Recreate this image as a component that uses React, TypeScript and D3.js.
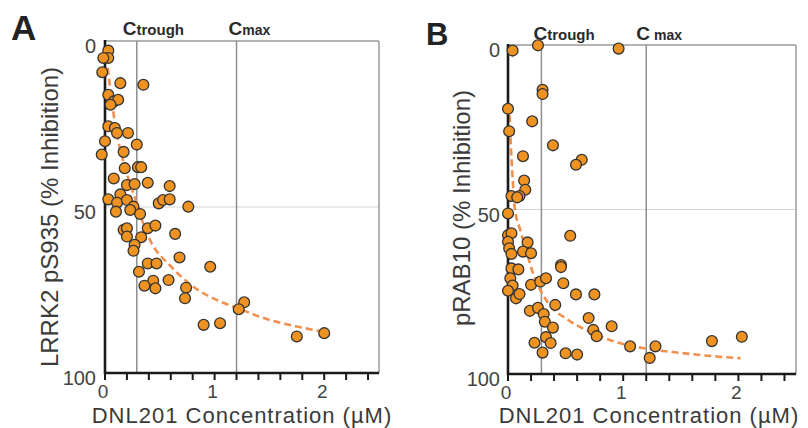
import * as d3 from 'd3';

// Panel A: LRRK2 pS935
const aConc = [0.03, 0.03, -0.015, -0.025, 0.14, 0.35, 0.03, 0.08, 0.12, 0.05, 0.03, 0.09, 0.11, 0.21, 0.0, 0.29,
  -0.03, 0.17, 0.18, 0.30, 0.33, 0.08, 0.20, 0.27, 0.39, 0.59, 0.14, 0.03, 0.11, 0.20, 0.26, 0.23, 0.10, 0.32,
  0.49, 0.53, 0.59, 0.76, 0.17, 0.20, 0.20, 0.39, 0.46, 0.33, 0.64, 0.27, 0.26, 0.68, 0.96, 0.39, 0.47, 0.31,
  0.44, 0.36, 0.46, 0.58, 0.74, 0.73, 1.27, 1.22, 0.90, 1.05, 1.75, 2.0];
const aInhib = [2.9, 5.1, 5.1, 9.4, 12.7, 13.2, 16.2, 18.2, 17.7, 19.2, 25.7, 26.2, 27.7, 27.7, 30.2, 31.2,
  34.2, 33.4, 38.3, 38.0, 38.0, 41.4, 43.4, 43.1, 42.7, 43.7, 46.2, 47.7, 48.7, 47.9, 49.9, 50.9, 51.4, 52.1,
  48.9, 47.9, 47.7, 49.9, 56.9, 56.4, 58.9, 56.4, 55.6, 59.1, 58.1, 61.4, 63.2, 65.2, 68.0, 67.0, 67.0, 69.5,
  72.2, 73.7, 74.5, 72.0, 74.3, 77.5, 78.7, 80.8, 85.5, 85.0, 89.0, 88.0];
const aFitConc = [0.025, 0.05, 0.1, 0.167, 0.26, 0.39, 0.61, 0.79, 1.09, 1.21, 1.5, 1.75, 2.0];
const aFitInhib = [8, 15, 26.5, 36.3, 46, 58.5, 68.2, 73.6, 79, 80.5, 84, 86, 87.6];

// Panel B: pRAB10
const bConc = [0.04, 0.26, 0.96, 0.30, 0.30, 0.0, 0.21, 0.01, 0.39, 0.13, 0.64, 0.59, 0.14, 0.15, 0.03, 0.10,
  0.08, 0.0, 0.54, 0.0, 0.03, 0.0, 0.17, 0.13, 0.20, 0.01, 0.03, 0.46, 0.46, 0.03, 0.09, 0.02, 0.20, 0.28, 0.33,
  0.48, 0.04, 0.0, 0.07, 0.10, 0.59, 0.75, 0.41, 0.19, 0.26, 0.31, 0.32, 0.39, 0.70, 0.90, 0.74, 0.77, 0.23,
  0.33, 0.37, 0.30, 0.50, 0.60, 1.06, 1.28, 1.23, 1.77, 2.03];
const bInhib = [1.7, 0.1, 1.1, 13.6, 14.9, 19.4, 23.2, 26.2, 30.5, 33.8, 34.9, 36.4, 41.2, 44.0, 45.9, 45.9,
  46.3, 51.2, 58.0, 57.8, 57.2, 59.8, 60.0, 62.8, 63.3, 61.8, 63.5, 66.9, 67.5, 67.9, 68.2, 70.9, 72.9, 71.9, 70.9,
  72.4, 73.1, 74.7, 77.0, 75.7, 75.8, 75.8, 79.0, 80.8, 79.9, 81.8, 84.1, 85.9, 83.0, 85.5, 86.6, 88.5, 90.5,
  88.8, 90.6, 93.5, 93.7, 94.1, 91.6, 91.6, 95.1, 90.0, 88.7];
const bFitConc = [0.01, 0.02, 0.043, 0.06, 0.1, 0.16, 0.2, 0.26, 0.35, 0.52, 0.7, 0.96, 1.2, 1.5, 1.75, 2.02];
const bFitInhib = [18, 27, 42, 50, 55.5, 62.5, 67.5, 73, 78.5, 83.5, 87, 90.5, 92.3, 93.6, 94.5, 95.2];

const xTicks = [0, 0.2, 0.4, 0.6, 0.8, 1, 1.2, 1.4, 1.6, 1.8, 2, 2.2, 2.4];
const xTickLabels = [0, 1, 2];
const yTickLabels = [0, 50, 100];
const cTrough = 0.29;
const cMax = 1.2;

const FONT = '"Liberation Sans", Arial, Helvetica, sans-serif';
const DOT = '#EE9322';
const FIT = '#F0904F';

function Panel({ letter, conc, inhib, fitConc, fitInhib, yTitle, box }) {
  const x = d3.scaleLinear().domain([0, 2.5]).range([box.left, box.right]);
  const y = d3.scaleLinear().domain([0, 100]).range([box.top, box.bottom]);
  const fit = d3.line().x(d => x(d[0])).y(d => y(d[1])).curve(d3.curveMonotoneX);
  const fitData = fitConc.map((c, i) => [c, fitInhib[i]]);

  return (
    <g fontFamily={FONT}>
      <text x={box.letterX} y={box.letterY} fontSize={box.letterSize} fontWeight="bold" fill="#222">{letter}</text>

      {/* frame + grid */}
      <line x1={x(0)} x2={box.right} y1={y(50)} y2={y(50)} stroke="#d4d4d4" strokeWidth={1.2} />
      <line x1={x(0)} x2={box.right} y1={box.top} y2={box.top} stroke="#9a9a9a" strokeWidth={1.5} />
      <line x1={box.right} x2={box.right} y1={box.top} y2={box.bottom} stroke="#9a9a9a" strokeWidth={1.5} />
      {[cTrough, cMax].map(v => (
        <line key={v} x1={x(v)} x2={x(v)} y1={box.top} y2={box.bottom} stroke="#8e8e8e" strokeWidth={1.5} />
      ))}

      {/* C labels */}
      <text x={x(cTrough) + box.troughDx} y={box.refY} fontWeight="bold" fill="#2a2a2a">
        <tspan fontSize={19}>C</tspan><tspan fontSize={15}>trough</tspan>
      </text>
      <text x={x(cMax) + box.maxDx} y={box.refY} fontWeight="bold" fill="#2a2a2a">
        <tspan fontSize={19}>C</tspan><tspan fontSize={14} dx={box.maxGap}>max</tspan>
      </text>

      {/* fit */}
      <path d={fit(fitData)} fill="none" stroke={FIT} strokeWidth={2.6} strokeDasharray="7,4" />

      {/* axes */}
      <line x1={x(0)} x2={x(0)} y1={box.top - 1} y2={box.bottom + 1} stroke="#1a1a1a" strokeWidth={2.6} />
      <line x1={x(0) - 1} x2={box.right} y1={box.bottom} y2={box.bottom} stroke="#1a1a1a" strokeWidth={2.6} />
      {xTicks.map(t => (
        <line key={t} x1={x(t)} x2={x(t)} y1={box.bottom} y2={box.bottom + 7} stroke="#1a1a1a" strokeWidth={2} />
      ))}
      {xTickLabels.map(t => (
        <text key={t} x={x(t) - 2} y={box.bottom + 25} textAnchor="middle" fontSize={19} fill="#444">{t}</text>
      ))}
      {yTickLabels.map(t => (
        <text key={t} x={x(0) - box.yLabGap} y={y(t) + 12} textAnchor="end" fontSize={20} fill="#444">{t}</text>
      ))}

      {/* points */}
      {conc.map((c, i) => (
        <circle key={i} cx={x(c)} cy={y(inhib[i])} r={5.4} fill={DOT} stroke="#333" strokeWidth={1.3} />
      ))}

      {/* titles */}
      <text x={box.xTitleX} y={423} textAnchor="middle" fontSize={22} letterSpacing={1} fill="#3a3a3a">DNL201 Concentration (µM)</text>
      <text transform={`translate(${box.yTitleX},${box.yTitleY}) rotate(-90)`} textAnchor="middle" fontSize={24} fill="#3a3a3a">{yTitle}</text>
    </g>
  );
}

const boxA = {
  left: 105, right: 379, top: 41, bottom: 373, letterX: 11, letterY: 40, letterSize: 35,
  refY: 35, troughDx: -14, maxDx: -8, maxGap: 0, yLabGap: 9, xTitleX: 242, yTitleX: 58, yTitleY: 217,
};
const boxB = {
  left: 508, right: 796, top: 45, bottom: 374, letterX: 426, letterY: 45, letterSize: 31,
  refY: 40, troughDx: -8, maxDx: -10, maxGap: 4, yLabGap: 8, xTitleX: 649, yTitleX: 470, yTitleY: 208,
};

export default function App() {
  return (
    <svg width={808} height={428} style={{ position: 'absolute', left: 0, top: 0, background: '#fff' }}>
      <Panel letter="A" conc={aConc} inhib={aInhib} fitConc={aFitConc} fitInhib={aFitInhib}
        yTitle="LRRK2 pS935 (% Inhibition)" box={boxA} />
      <Panel letter="B" conc={bConc} inhib={bInhib} fitConc={bFitConc} fitInhib={bFitInhib}
        yTitle="pRAB10 (% Inhibition)" box={boxB} />
    </svg>
  );
}
